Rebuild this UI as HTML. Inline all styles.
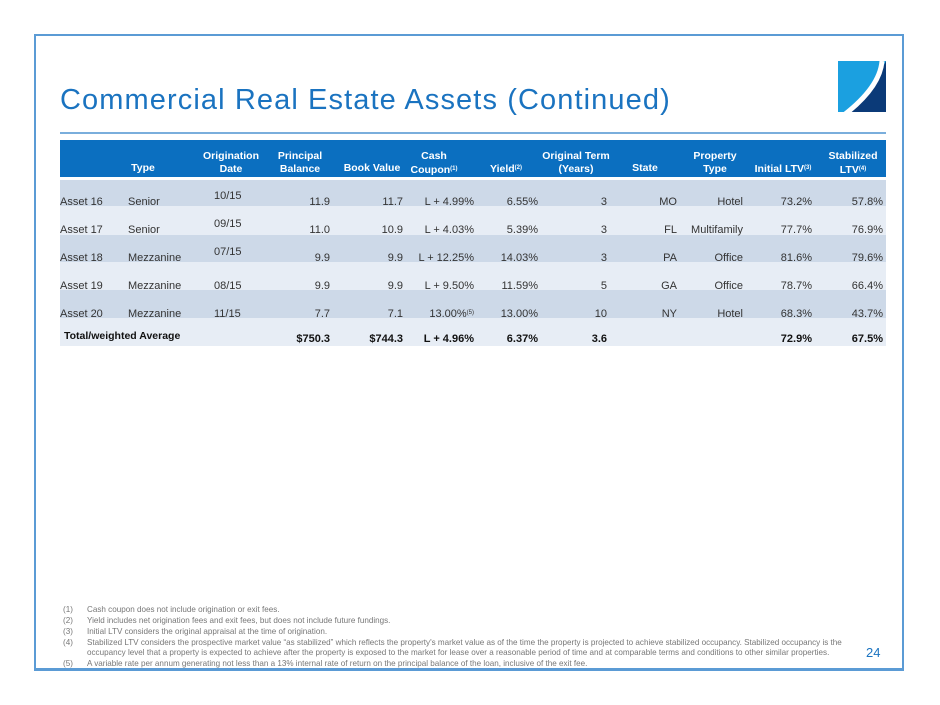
<!DOCTYPE html>
<html><head><meta charset="utf-8"><style>
*{margin:0;padding:0;box-sizing:border-box}
body{width:940px;height:705px;background:#fff;position:relative;font-family:"Liberation Sans",sans-serif;overflow:hidden}
.frame{position:absolute;left:34px;top:34px;width:870px;height:637px;border:2px solid #5b9bd5;border-bottom-width:3px}
.title{position:absolute;left:60px;top:84px;font-size:29px;color:#1a73c0;letter-spacing:1.1px;white-space:nowrap}
.hl{position:absolute;left:60px;width:826px;top:132px;height:2px;background:#7aaedc}
.hdr{position:absolute;left:60px;top:140px;width:826px;height:37px;background:#0b6fc0}
.row{position:absolute;left:60px;width:826px}
.t{position:absolute;font-size:11px;color:#333;white-space:nowrap}
.h{position:absolute;font-size:10.5px;color:#fff;font-weight:bold;text-align:center;line-height:13px;white-space:nowrap}
.r{text-align:right}
sup{font-size:6px;vertical-align:3px}
.b{font-weight:bold;color:#111}
.fn{position:absolute;font-size:8.1px;color:#777;white-space:nowrap}
</style></head><body>
<div class="frame"></div>
<div class="title">Commercial Real Estate Assets (Continued)</div>
<svg style="position:absolute;left:838px;top:61px" width="50" height="52"><rect x="0" y="0" width="48" height="51" fill="#1ba0e0"/><polygon points="12,51 36,24 48,0 48,51" fill="#0b3a78"/><path d="M44,0 Q42,26 6,54" stroke="#fff" stroke-width="5" fill="none"/></svg>
<div class="hl"></div>
<div class="hdr"></div>
<div class="row" style="top:180px;height:26px;background:#cdd9e8"></div>
<div class="row" style="top:206px;height:29px;background:#e7edf5"></div>
<div class="row" style="top:235px;height:27px;background:#cdd9e8"></div>
<div class="row" style="top:262px;height:28px;background:#e7edf5"></div>
<div class="row" style="top:290px;height:28px;background:#cdd9e8"></div>
<div class="row" style="top:318px;height:28px;background:#e7edf5"></div>

<div class="h" style="left:113px;width:60px;top:162px">Type</div>
<div class="h" style="left:196px;width:70px;top:150px">Origination<br>Date</div>
<div class="h" style="left:265px;width:70px;top:150px">Principal<br>Balance</div>
<div class="h" style="left:337px;width:70px;top:162px">Book Value</div>
<div class="h" style="left:399px;width:70px;top:150px">Cash<br>Coupon<sup>(1)</sup></div>
<div class="h" style="left:476px;width:60px;top:162px">Yield<sup>(2)</sup></div>
<div class="h" style="left:536px;width:80px;top:150px">Original Term<br>(Years)</div>
<div class="h" style="left:615px;width:60px;top:162px">State</div>
<div class="h" style="left:680px;width:70px;top:150px">Property<br>Type</div>
<div class="h" style="left:745px;width:76px;top:162px">Initial LTV<sup>(3)</sup></div>
<div class="h" style="left:820px;width:66px;top:150px">Stabilized<br>LTV<sup>(4)</sup></div>

<div id="rows"></div>
<script>
var d=[["Asset 16","Senior","10/15","11.9","11.7","L + 4.99%","6.55%","3","MO","Hotel","73.2%","57.8%",203,1],
["Asset 17","Senior","09/15","11.0","10.9","L + 4.03%","5.39%","3","FL","Multifamily","77.7%","76.9%",231,1],
["Asset 18","Mezzanine","07/15","9.9","9.9","L + 12.25%","14.03%","3","PA","Office","81.6%","79.6%",259,1],
["Asset 19","Mezzanine","08/15","9.9","9.9","L + 9.50%","11.59%","5","GA","Office","78.7%","66.4%",287,0],
["Asset 20","Mezzanine","11/15","7.7","7.1","13.00%<sup>(5)</sup>","13.00%","10","NY","Hotel","68.3%","43.7%",315,0]];
var rr=[330,403,474,538,607,677,743,812,883],h="";
d.forEach(function(a){var y=a[12]-7;
h+='<div class="t" style="left:60px;top:'+y+'px">'+a[0]+'</div><div class="t" style="left:128px;top:'+y+'px">'+a[1]+'</div>';
h+='<div class="t" style="left:214px;top:'+(y-(a[13]?6:0))+'px">'+a[2]+'</div>';
for(var i=0;i<9;i++)h+='<div class="t r" style="right:'+(940-rr[i])+'px;top:'+y+'px">'+a[3+i]+'</div>';});
h+='<div class="t b" style="left:64px;top:330px;font-size:10.5px">Total/weighted Average</div>';
var tv=["$750.3","$744.3","L + 4.96%","6.37%","3.6","","","72.9%","67.5%"];
for(var i=0;i<9;i++)if(tv[i])h+='<div class="t b r" style="right:'+(940-rr[i])+'px;top:333px">'+tv[i]+'</div>';
document.getElementById("rows").innerHTML=h;
</script>

<div class="fn" style="left:63px;top:605px">(1)</div><div class="fn" style="left:87px;top:605px">Cash coupon does not include origination or exit fees.</div>
<div class="fn" style="left:63px;top:616px">(2)</div><div class="fn" style="left:87px;top:616px">Yield includes net origination fees and exit fees, but does not include future fundings.</div>
<div class="fn" style="left:63px;top:627px">(3)</div><div class="fn" style="left:87px;top:627px">Initial LTV considers the original appraisal at the time of origination.</div>
<div class="fn" style="left:63px;top:638px">(4)</div><div class="fn" style="left:87px;top:638px">Stabilized LTV considers the prospective market value “as stabilized” which reflects the property's market value as of the time the property is projected to achieve stabilized occupancy. Stabilized occupancy is the</div>
<div class="fn" style="left:87px;top:648px">occupancy level that a property is expected to achieve after the property is exposed to the market for lease over a reasonable period of time and at comparable terms and conditions to other similar properties.</div>
<div class="fn" style="left:63px;top:659px">(5)</div><div class="fn" style="left:87px;top:659px">A variable rate per annum generating not less than a 13% internal rate of return on the principal balance of the loan, inclusive of the exit fee.</div>
<div style="position:absolute;left:866px;top:645px;font-size:13px;color:#1a73c0">24</div>
</body></html>
